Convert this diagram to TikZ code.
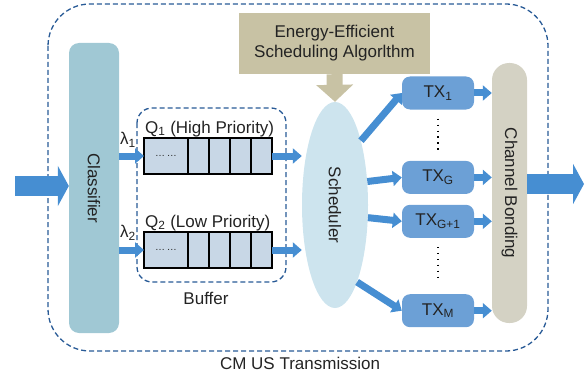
\documentclass[tikz,border=0pt]{standalone}
\usepackage{fontspec}
\setmainfont{Liberation Sans}
\usetikzlibrary{arrows.meta,shapes.geometric,positioning}

\definecolor{classcol}{RGB}{160,200,212}
\definecolor{schedcol}{RGB}{205,228,238}
\definecolor{txcol}{RGB}{108,160,214}
\definecolor{bondcol}{RGB}{212,210,196}
\definecolor{algcol}{RGB}{200,194,164}
\definecolor{arrcol}{RGB}{70,142,210}
\definecolor{dashcol}{RGB}{40,90,150}
\definecolor{qcol}{RGB}{200,215,230}
\definecolor{textcol}{RGB}{35,35,35}

\tikzset{
	every node/.style={font=\fontsize{17}{20}\selectfont, text=textcol},
	region/.style={draw=dashcol, line width=1.3pt, dash pattern=on 5pt off 3pt},
	txbox/.style={fill=txcol, rounded corners=8pt, minimum width=72pt, minimum height=33pt, inner sep=0pt},
	cell/.style={draw=black, fill=qcol, line width=1.3pt, minimum height=36pt, inner sep=0pt, outer sep=0pt},
	flow/.style={draw=arrcol, line width=7pt, -{Triangle[width=15pt,length=9pt]}},
	bigflow/.style={draw=arrcol, line width=20pt, -{Triangle[width=40pt,length=11pt]}},
}

\begin{document}
\begin{tikzpicture}[x=1pt, y=-1pt]
	\useasboundingbox (0,0) rectangle (588,377);

	% dashed regions
	\draw[region, rounded corners=42pt] (48,4) rectangle (548,351);
	\draw[region, rounded corners=15pt] (137,108) rectangle (286,282);
	\node (cmus) at (300,363) {CM US Transmission};
	\node (buffer) at (206,298) {Buffer};

	% main blocks
	\node[fill=classcol, rounded corners=10pt, minimum width=50pt, minimum height=290pt] (class) at (94,188) {\rotatebox{-90}{Classifier}};
	\node[ellipse, fill=schedcol, minimum width=66pt, minimum height=206pt, inner sep=0pt] (sched) at (335,205) {\rotatebox{-90}{Scheduler}};
	\node[fill=bondcol, rounded corners=17pt, minimum width=35pt, minimum height=260pt] (bond) at (509.5,193) {\rotatebox{-90}{Channel Bonding}};
	\node[fill=algcol, minimum width=191pt, minimum height=61pt, align=center, inner sep=0pt] (alg) at (334.5,43.5) {Energy-Efficient\\Scheduling Algorlthm};

	% queues
	\foreach \q/\y in {1/156, 2/250} {
		\node[cell, minimum width=44pt] (q\q a) at (166,\y) {\fontsize{10}{10}\selectfont\dots\,\dots};
		\foreach \c [remember=\c as \p (initially a)] in {b,c,d,e}
			\node[cell, minimum width=21pt, right=0pt of q\q\p] (q\q\c) {};
	}
	\node[anchor=south west, inner sep=1pt] (q1lab) at (q1a.north west) {Q\textsubscript{1} (High Priority)};
	\node[anchor=south west, inner sep=1pt] (q2lab) at (q2a.north west) {Q\textsubscript{2} (Low Priority)};
	\node (lam1) at (128,140) {λ\textsubscript{1}};
	\node (lam2) at (128,233) {λ\textsubscript{2}};

	% transmitters
	\node[txbox] (tx1) at (438,93) {TX\textsubscript{1}};
	\node[txbox, below=51pt of tx1] (txg) {TX\textsubscript{G}};
	\node[txbox, below=10.5pt of txg] (txg1) {TX\textsubscript{G+1}};
	\node[txbox, below=56pt of txg1] (txm) {TX\textsubscript{M}};
	\draw[line width=1.3pt, dash pattern=on 1.3pt off 4.6pt, shorten <=9pt, shorten >=8pt] (tx1.south) -- (txg.north);
	\draw[line width=1.3pt, dash pattern=on 1.3pt off 4.6pt, shorten <=9pt, shorten >=14pt] (txg1.south) -- (txm.north);

	% flows
	\coordinate (in) at (15,186);
	\coordinate (out) at (584,184);
	\draw[bigflow] (in) -- (class.west |- in);
	\draw[bigflow] (bond.east |- out) -- (out);
	\draw[draw=algcol, line width=16pt, -{Triangle[width=36pt,length=17pt]}] (alg.south) -- (sched.north);

	\draw[flow] (class.east |- q1a) -- (q1a.west);
	\draw[flow] (class.east |- q2a) -- (q2a.west);
	\draw[flow] (q1e.east) -- (sched.west |- q1e.east);
	\draw[flow] (q2e.east) -- (sched.west |- q2e.east);

	\draw[flow] (sched.68) -- (tx1.west);
	\draw[flow] (sched.36) -- (txg.west);
	\draw[flow] (sched.-21) -- (txg1.west);
	\draw[flow] (sched.-74) -- (txm.west);

	\foreach \t in {tx1, txg, txg1, txm}
		\draw[flow] (\t.east) -- (bond.west |- \t.east);
\end{tikzpicture}
\end{document}
